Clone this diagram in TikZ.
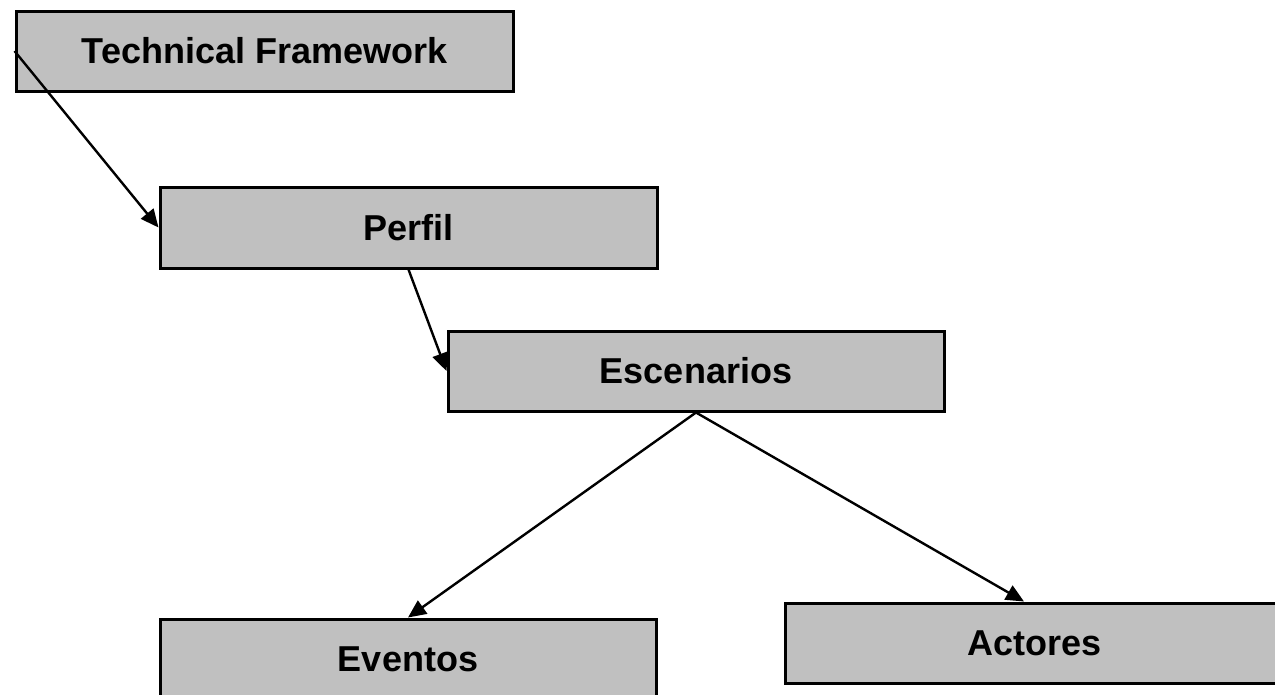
\documentclass[tikz,border=0pt]{standalone}
\usepackage{fontspec}
\setmainfont{Liberation Sans}
\usetikzlibrary{arrows.meta}
\definecolor{boxgray}{RGB}{192,192,192}
\begin{document}
\begin{tikzpicture}[x=1pt,y=-1pt,
  box/.style={draw=black, fill=boxgray, line width=3pt, rectangle, inner sep=0pt,
    minimum height=80pt, font=\fontsize{36}{40}\selectfont\bfseries},
  conn/.style={line width=2.4pt, -{Triangle[length=18pt,width=16pt]}}]
\useasboundingbox (0,0) rectangle (1275,694);
\node[box, minimum width=497pt] (tf) at (264.5,51) {Technical Framework};
\node[box, minimum width=497pt, minimum height=81pt] (perfil) at (408.5,227.5) {Perfil};
\node[box, minimum width=496pt] (esc) at (696,371) {Escenarios};
\node[box, minimum width=496pt] (eventos) at (408,659) {Eventos};
\node[box, minimum width=500pt] (actores) at (1035,643) {Actores};
\draw[conn] (tf.west) -- (perfil.west);
\draw[conn] (perfil.south) -- (esc.west);
\draw[conn] (esc.south) -- (eventos.north);
\draw[conn] (esc.south) -- ([xshift=-11pt]actores.north);
\end{tikzpicture}
\end{document}
